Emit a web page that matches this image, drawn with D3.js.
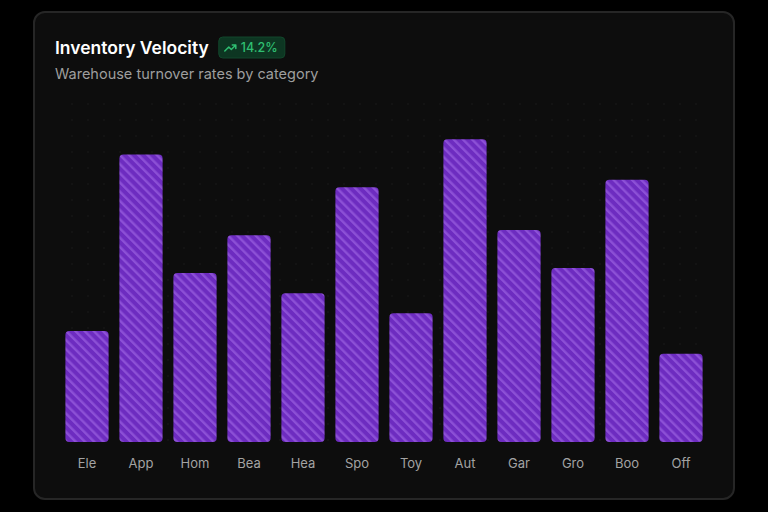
<!DOCTYPE html>
<html>
<head>
<meta charset="utf-8">
<script src="https://cdn.jsdelivr.net/npm/d3@7/dist/d3.min.js"></script>
<style>
  html, body { margin: 0; padding: 0; background: #000; }
  body { width: 768px; height: 512px; overflow: hidden; font-family: Inter, "Noto Sans", sans-serif; }
</style>
</head>
<body>
<svg id="chart" width="768" height="512"></svg>
<script>
const categories = ["Ele", "App", "Hom", "Bea", "Hea", "Spo", "Toy", "Aut", "Gar", "Gro", "Boo", "Off"];
const turnover = [4.4, 11.4, 6.7, 8.2, 5.9, 10.1, 5.1, 12.0, 8.4, 6.9, 10.4, 3.5];
const titleText = "Inventory Velocity";
const subtitleText = "Warehouse turnover rates by category";
const badgeText = "14.2%";

const svg = d3.select("#chart");
const defs = svg.append("defs");

// stripe pattern
const pat = defs.append("pattern")
  .attr("id", "stripes")
  .attr("patternUnits", "userSpaceOnUse")
  .attr("width", 6.5).attr("height", 6.5)
  .attr("patternTransform", "rotate(-45)");
pat.append("rect").attr("width", 6.5).attr("height", 6.5).attr("fill", "#6d2cc0");
pat.append("rect").attr("width", 2.4).attr("height", 6.5).attr("fill", "#8c50d6");

// dot grid pattern
const dots = defs.append("pattern")
  .attr("id", "dots")
  .attr("patternUnits", "userSpaceOnUse")
  .attr("width", 16).attr("height", 16);
dots.append("circle").attr("cx", 8).attr("cy", 8).attr("r", 0.7).attr("fill", "#1c1c1c");

// card
svg.append("rect")
  .attr("x", 34).attr("y", 12).attr("width", 700).attr("height", 487)
  .attr("rx", 11).attr("fill", "#0d0d0d")
  .attr("stroke", "#262626").attr("stroke-width", 2);

const margin = { left: 60, right: 708, top: 109, bottom: 442 };

svg.append("rect")
  .attr("x", margin.left).attr("y", 100)
  .attr("width", margin.right - margin.left).attr("height", margin.bottom - 100)
  .attr("fill", "url(#dots)");

const x = d3.scaleBand().domain(categories).range([60, 708]).paddingInner(0.2).paddingOuter(0.1);
const y = d3.scaleLinear().domain([0, d3.max(turnover) * 1.1]).range([margin.bottom, margin.top]);

const data = categories.map((c, i) => ({ c, v: turnover[i] }));

svg.append("g").selectAll("path").data(data).join("path")
  .attr("d", d => {
    const x0 = x(d.c), w = x.bandwidth(), y0 = y(d.v), h = y(0) - y(d.v), r = 4;
    return `M${x0},${y0 + r}Q${x0},${y0} ${x0 + r},${y0}H${x0 + w - r}Q${x0 + w},${y0} ${x0 + w},${y0 + r}` +
           `V${y0 + h - r}Q${x0 + w},${y0 + h} ${x0 + w - r},${y0 + h}H${x0 + r}Q${x0},${y0 + h} ${x0},${y0 + h - r}Z`;
  })
  .attr("fill", "url(#stripes)");

// x axis
const xAxis = svg.append("g")
  .attr("transform", `translate(0,${margin.bottom})`)
  .call(d3.axisBottom(x).tickSize(0).tickPadding(17));
xAxis.select(".domain").remove();
xAxis.selectAll("text")
  .attr("fill", "#a3a3a3")
  .style("font-size", "13px")
  .style("font-family", "Inter, 'Noto Sans', sans-serif");

// title
const title = svg.append("text")
  .attr("x", 55).attr("y", 54)
  .attr("fill", "#ffffff")
  .style("font-size", "17.5px").style("font-weight", "600")
  .text(titleText);

const tw = title.node().getComputedTextLength();
const bx = 55 + tw + 10;
const bg = svg.append("g").attr("transform", `translate(${bx},37)`);
bg.append("rect").attr("width", 66).attr("height", 21).attr("rx", 4)
  .attr("fill", "#0d3622").attr("stroke", "#12472c").attr("stroke-width", 1);
bg.append("path")
  .attr("d", "M6,14 L10,10 L12.5,12.5 L17,8 M13.5,8 H17 V11.5")
  .attr("fill", "none").attr("stroke", "#2fbf71").attr("stroke-width", 1.5)
  .attr("stroke-linecap", "round").attr("stroke-linejoin", "round");
bg.append("text").attr("x", 22).attr("y", 15)
  .attr("fill", "#2fbf71").style("font-size", "12.5px").style("font-weight", "500")
  .text(badgeText);

svg.append("text")
  .attr("x", 55).attr("y", 79)
  .attr("fill", "#9e9e9e")
  .style("font-size", "14.5px")
  .text(subtitleText);
</script>
</body>
</html>
